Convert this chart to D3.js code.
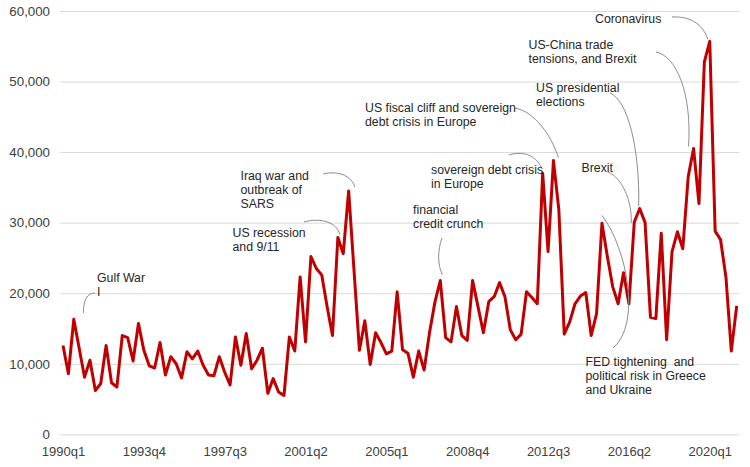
<!DOCTYPE html>
<html>
<head>
<meta charset="utf-8">
<script src="https://cdn.jsdelivr.net/npm/d3@7"></script>
<style>
  html, body { margin: 0; padding: 0; background: #fff; }
  svg { display: block; font-family: "Liberation Sans", Arial, sans-serif; }
  .ann text { white-space: pre; }
</style>
</head>
<body>
<svg id="chart" width="750" height="467"></svg>
<script>
// ---- data ----
const startYear = 1990;
const values = [
  12600, 8600, 16300, 12200, 8100, 10500, 6200, 7200, 12600, 7300,
  6700, 14000, 13700, 10400, 15700, 11900, 9700, 9400, 13000, 8400,
  11000, 10000, 8000, 11700, 10700, 11800, 9800, 8400, 8300, 11000,
  8800, 7000, 13800, 9800, 14300, 9300, 10500, 12200, 5800, 7900,
  6000, 5500, 13800, 11800, 22300, 13100, 25200, 23500, 22600, 18100,
  14000, 27900, 25600, 34500, 23200, 11900, 16100, 9900, 14400, 13000,
  11400, 11800, 20200, 12000, 11500, 8100, 11800, 9100, 14400, 18700,
  21800, 13700, 13100, 18100, 14000, 13300, 21800, 18100, 14400, 18800,
  19500, 21500, 19500, 14800, 13400, 14200, 20200, 19400, 18500, 37000,
  25900, 38800, 31800, 14200, 15900, 18500, 19600, 20100, 14000, 17100,
  29900, 25200, 20900, 18500, 22900, 18500, 30100, 32000, 30000, 16600,
  16400, 28500, 13400, 25900, 28700, 26300, 36500, 40500, 32700, 52800,
  55700, 28800, 27600, 22300, 11800, 18200
];
const quarters = values.map((_, i) => (startYear + Math.floor(i / 4)) + "q" + (i % 4 + 1));
const xTickLabels = ["1990q1", "1993q4", "1997q3", "2001q2", "2005q1", "2008q4", "2012q3", "2016q2", "2020q1"];
const yTicks = [0, 10000, 20000, 30000, 40000, 50000, 60000];

// annotations: text lines, target quarter (connector end on the series)
const annotations = [
  { lines: ["Gulf War", "I"], tx: 97, ty: 282, target: "1990q3", path: (x, y) => `M83.3,313 C83.5,300 87,293 95,293` },
  { lines: ["US recession", "and 9/11"], tx: 232.5, ty: 237, target: "2002q4", path: (x, y) => `M304,222 C322,217 337,223 ${x + 2},${y - 3}` },
  { lines: ["Iraq war and", "outbreak of", "SARS"], tx: 240.5, ty: 179.5, target: "2003q2", path: (x, y) => `M323,174 C340,170 352,177 ${x + 6},${y - 4}` },
  { lines: ["financial", "credit crunch"], tx: 413, ty: 214, target: "2007q3", path: (x, y) => `M442,238 C437.5,250 437.5,265 ${x + 2},${y - 6}` },
  { lines: ["sovereign debt crisis", "in Europe"], tx: 431, ty: 174, target: "2012q2", path: (x, y) => `M509,155 C525,150 537,157 ${x - 1},${y - 5}` },
  { lines: ["US fiscal cliff and sovereign", "debt crisis in Europe"], tx: 365, ty: 111.5, target: "2012q4", path: (x, y) => `M515,108 C535,112 551,135 ${x + 5},${y - 3}` },
  { lines: ["Coronavirus"], tx: 595, ty: 23, target: "2020q1", path: (x, y) => `M672,17 C690,16 703,24 ${x - 2},${y - 2}` },
  { lines: ["US-China trade", "tensions, and Brexit"], tx: 528.5, ty: 49, target: "2019q2", path: (x, y) => `M656,52 C676,56 692,92 ${x - 5},${y - 2}` },
  { lines: ["US presidential", "elections"], tx: 536, ty: 91.5, target: "2016q4", path: (x, y) => `M610,93 C628,100 640,150 ${x - 1},${y - 2}` },
  { lines: ["Brexit"], tx: 581.5, ty: 171.5, target: "2016q3", path: (x, y) => `M608,172 C622,178 632,200 ${x - 3},${y + 1}` },
  { lines: ["FED tightening  and", "political risk in Greece", "and Ukraine"], tx: 585.5, ty: 366, target: "2015q1", path: (x, y) => `M${x},${y - 8} C628,250 641,325 613,348` }
];

// ---- layout ----
const svg = d3.select("#chart");
const xLeft = 63, xRight = 736.7;
const x = d3.scalePoint().domain(quarters).range([xLeft, xRight]);
const step = x.step();
const y = d3.scaleLinear().domain([0, 60000]).range([434.3, 11]);

svg.append("rect").attr("width", 750).attr("height", 467).attr("fill", "#fff");

// gridlines
const yAxis = d3.axisLeft(y).tickValues(yTicks).tickSize(-(xRight - xLeft + step)).tickFormat(d3.format(","));
const gy = svg.append("g").attr("transform", `translate(${xLeft - step / 2},0)`).call(yAxis);
gy.select(".domain").remove();
gy.selectAll(".tick line").attr("stroke", "#d9d9d9").attr("stroke-width", 1);
gy.selectAll(".tick text")
  .attr("x", 50 - (xLeft - step / 2))
  .attr("fill", "#404040")
  .attr("font-size", 13.3)
  .attr("font-family", "Liberation Sans, Arial, sans-serif");

// x axis labels
const xAxis = d3.axisBottom(x).tickValues(xTickLabels).tickSize(0);
const gx = svg.append("g").attr("transform", `translate(0,${y(0)})`).call(xAxis);
gx.select(".domain").remove();
gx.selectAll(".tick text")
  .attr("y", 0)
  .attr("dy", 21.7)
  .attr("fill", "#404040")
  .attr("font-size", 13)
  .attr("font-family", "Liberation Sans, Arial, sans-serif");

// line
const line = d3.line().x((d, i) => x(quarters[i])).y(d => y(d));
svg.append("path")
  .datum(values)
  .attr("d", line)
  .attr("fill", "none")
  .attr("stroke", "#C00000")
  .attr("stroke-width", 3)
  .attr("stroke-linejoin", "round");

// annotations
const ann = svg.append("g").attr("class", "ann");
annotations.forEach(a => {
  const i = quarters.indexOf(a.target);
  const px = x(a.target), py = y(values[i]);
  ann.append("path")
    .attr("d", a.path(px, py))
    .attr("fill", "none")
    .attr("stroke", "#8c8c8c")
    .attr("stroke-width", 1);
  const t = ann.append("text")
    .attr("x", a.tx).attr("y", a.ty)
    .attr("font-size", 12.3)
    .attr("fill", "#262626");
  a.lines.forEach((l, k) => {
    t.append("tspan").attr("x", a.tx).attr("y", a.ty + k * 14).text(l);
  });
});
</script>
</body>
</html>
